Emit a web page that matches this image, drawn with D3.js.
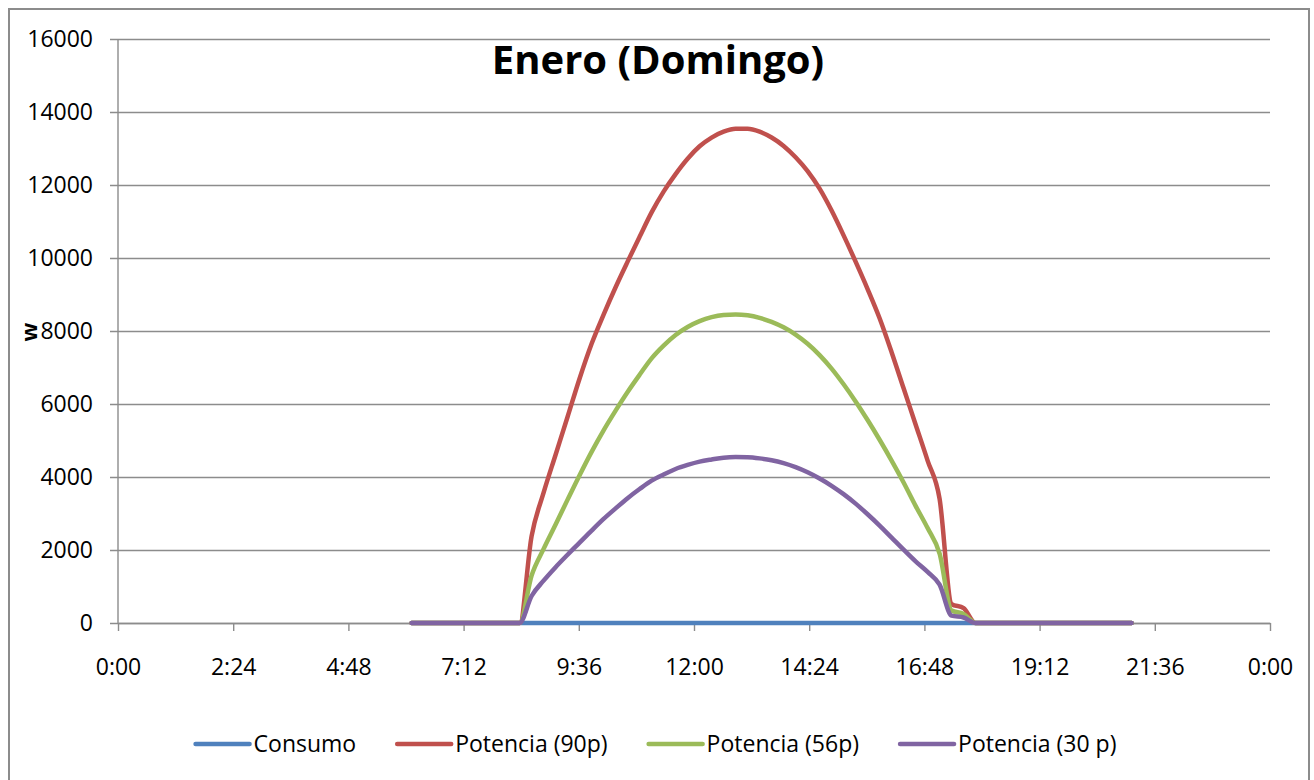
<!DOCTYPE html>
<html lang="es">
<head>
<meta charset="utf-8">
<title>Enero (Domingo)</title>
<script src="https://cdn.jsdelivr.net/npm/d3@7"></script>
<style>
  body { margin: 0; background: #fff; }
  text { font-family: "Open Sans", sans-serif; fill: #000; }
  .axis-label { font-size: 23px; }
  .grid line { stroke: #8c8c8c; stroke-width: 1.4; }
</style>
</head>
<body>
<script>
// Horas (cada 15 minutos desde 6:07 hasta 21:07)
var horas = [
  "6:07","6:22","6:37","6:52","7:07","7:22","7:37","7:52","8:07","8:22",
  "8:37","8:52","9:07","9:22","9:37","9:52","10:07","10:22","10:37","10:52",
  "11:07","11:22","11:37","11:52","12:07","12:22","12:37","12:52","13:07","13:22",
  "13:37","13:52","14:07","14:22","14:37","14:52","15:07","15:22","15:37","15:52",
  "16:07","16:22","16:37","16:52","17:07","17:22","17:37","17:52","18:07","18:22",
  "18:37","18:52","19:07","19:22","19:37","19:52","20:07","20:22","20:37","20:52","21:07"
];

var consumo = [
  0,0,0,0,0,0,0,0,0,0, 0,0,0,0,0,0,0,0,0,0,
  0,0,0,0,0,0,0,0,0,0, 0,0,0,0,0,0,0,0,0,0,
  0,0,0,0,0,0,0,0,0,0, 0,0,0,0,0,0,0,0,0,0, 0
];

var potencia90 = [
  0,0,0,0,0,0,0,0,0,0,
  2380,3570,4610,5650,6700,7650,8450,9200,9900,10580,
  11250,11820,12300,12720,13060,13300,13460,13540,13540,13460,
  13300,13070,12760,12380,11900,11300,10620,9900,9150,8350,
  7420,6430,5440,4450,3400,520,410,0,0,0,
  0,0,0,0,0,0,0,0,0,0,0
];

var potencia56 = [
  0,0,0,0,0,0,0,0,0,0,
  1300,2030,2700,3380,4050,4690,5280,5820,6330,6800,
  7250,7600,7890,8110,8270,8380,8440,8455,8430,8360,
  8250,8100,7900,7650,7340,6970,6540,6070,5560,5020,
  4450,3850,3210,2600,1900,340,250,0,0,0,
  0,0,0,0,0,0,0,0,0,0,0
];

var potencia30 = [
  0,0,0,0,0,0,0,0,0,0,
  740,1160,1530,1870,2200,2530,2850,3140,3420,3670,
  3900,4070,4220,4330,4420,4480,4530,4545,4540,4510,
  4460,4380,4270,4130,3960,3760,3530,3270,2980,2670,
  2340,2010,1690,1400,1050,200,150,0,0,0,
  0,0,0,0,0,0,0,0,0,0,0
];

var nombres = ["Consumo", "Potencia (90p)", "Potencia (56p)", "Potencia (30 p)"];
var colores = ["#4f81bd", "#c0504d", "#9bbb59", "#8064a2"];
var yTicks = [0, 2000, 4000, 6000, 8000, 10000, 12000, 14000, 16000];
var xTicks = ["0:00","2:24","4:48","7:12","9:36","12:00","14:24","16:48","19:12","21:36","0:00"];

var width = 1314, height = 780;
var margin = {top: 39, right: 44, bottom: 157, left: 118};
var plot_w = width - margin.left - margin.right;
var plot_h = height - margin.top - margin.bottom;

function aMinutos(s) {
  var p = s.split(":");
  return (+p[0]) * 60 + (+p[1]);
}

var series = [consumo, potencia90, potencia56, potencia30].map(function(vals, i) {
  return {
    nombre: nombres[i],
    color: colores[i],
    puntos: vals.map(function(v, j) { return {t: aMinutos(horas[j]), v: v}; })
  };
});

var svg = d3.select("body").append("svg")
  .attr("width", width)
  .attr("height", height);

// chart frame
svg.append("rect")
  .attr("x", 9).attr("y", 9)
  .attr("width", 1300).attr("height", 790)
  .attr("fill", "#fff")
  .attr("stroke", "#8c8c8c")
  .attr("stroke-width", 2);

var g = svg.append("g")
  .attr("transform", "translate(" + margin.left + "," + margin.top + ")");

var xScale = d3.scaleLinear().domain([0, 1440]).range([0, plot_w]);
var yScale = d3.scaleLinear().domain([0, 16000]).range([plot_h, 0]);

// horizontal gridlines + y axis
var yAxis = d3.axisLeft(yScale)
  .tickValues(yTicks)
  .tickSize(-plot_w)
  .tickSizeOuter(0)
  .tickPadding(25)
  .tickFormat(d3.format("d"));

var gy = g.append("g").attr("class", "grid").call(yAxis);
gy.select(".domain").remove();
gy.selectAll(".tick line").attr("x1", -8);
gy.selectAll(".tick text").attr("class", "axis-label").attr("dy", "0.34em");

g.append("line")
  .attr("x1", 0).attr("x2", 0)
  .attr("y1", 0).attr("y2", plot_h)
  .attr("stroke", "#8c8c8c").attr("stroke-width", 1.4);

// x axis
var xAxis = d3.axisBottom(xScale)
  .tickValues(d3.range(0, 1441, 144))
  .tickSize(8)
  .tickSizeOuter(0)
  .tickPadding(28)
  .tickFormat(function(d, i) { return xTicks[i]; });

var gx = g.append("g").attr("class", "grid")
  .attr("transform", "translate(0," + plot_h + ")")
  .call(xAxis);
gx.select(".domain").attr("stroke", "#8c8c8c").attr("stroke-width", 1.4);
gx.selectAll(".tick text").attr("class", "axis-label");

// lines
var linea = d3.line()
  .x(function(d) { return xScale(d.t); })
  .y(function(d) { return yScale(d.v); })
  .curve(d3.curveMonotoneX);

g.selectAll(".serie")
  .data(series)
  .enter()
  .append("path")
  .attr("class", "serie")
  .attr("d", function(d) { return linea(d.puntos); })
  .attr("fill", "none")
  .attr("stroke", function(d) { return d.color; })
  .attr("stroke-width", 4.5)
  .attr("stroke-linejoin", "round")
  .attr("stroke-linecap", "round");

// title
svg.append("text")
  .attr("x", 658).attr("y", 74)
  .attr("text-anchor", "middle")
  .style("font-size", "40px")
  .style("font-weight", "bold")
  .text("Enero (Domingo)");

// y axis title
svg.append("text")
  .attr("transform", "translate(37,332)rotate(-90)")
  .attr("text-anchor", "middle")
  .style("font-size", "22px")
  .style("font-weight", "bold")
  .text("w");

// legend
var leg = svg.append("g");
var lineLen = 54, gapTxt = 4, gapItem = 41;
var xPos = 0;
series.forEach(function(s) {
  var it = leg.append("g").attr("transform", "translate(" + xPos + ",0)");
  it.append("line")
    .attr("x1", 0).attr("x2", lineLen)
    .attr("y1", 0).attr("y2", 0)
    .attr("stroke", s.color)
    .attr("stroke-width", 4.5)
    .attr("stroke-linecap", "round");
  var t = it.append("text")
    .attr("x", lineLen + gapTxt)
    .attr("dy", "0.34em")
    .attr("class", "axis-label")
    .text(s.nombre);
  xPos += lineLen + gapTxt + t.node().getComputedTextLength() + gapItem;
});
var legW = xPos - gapItem;
leg.attr("transform", "translate(" + (656 - legW / 2) + ",744)");
</script>
</body>
</html>
